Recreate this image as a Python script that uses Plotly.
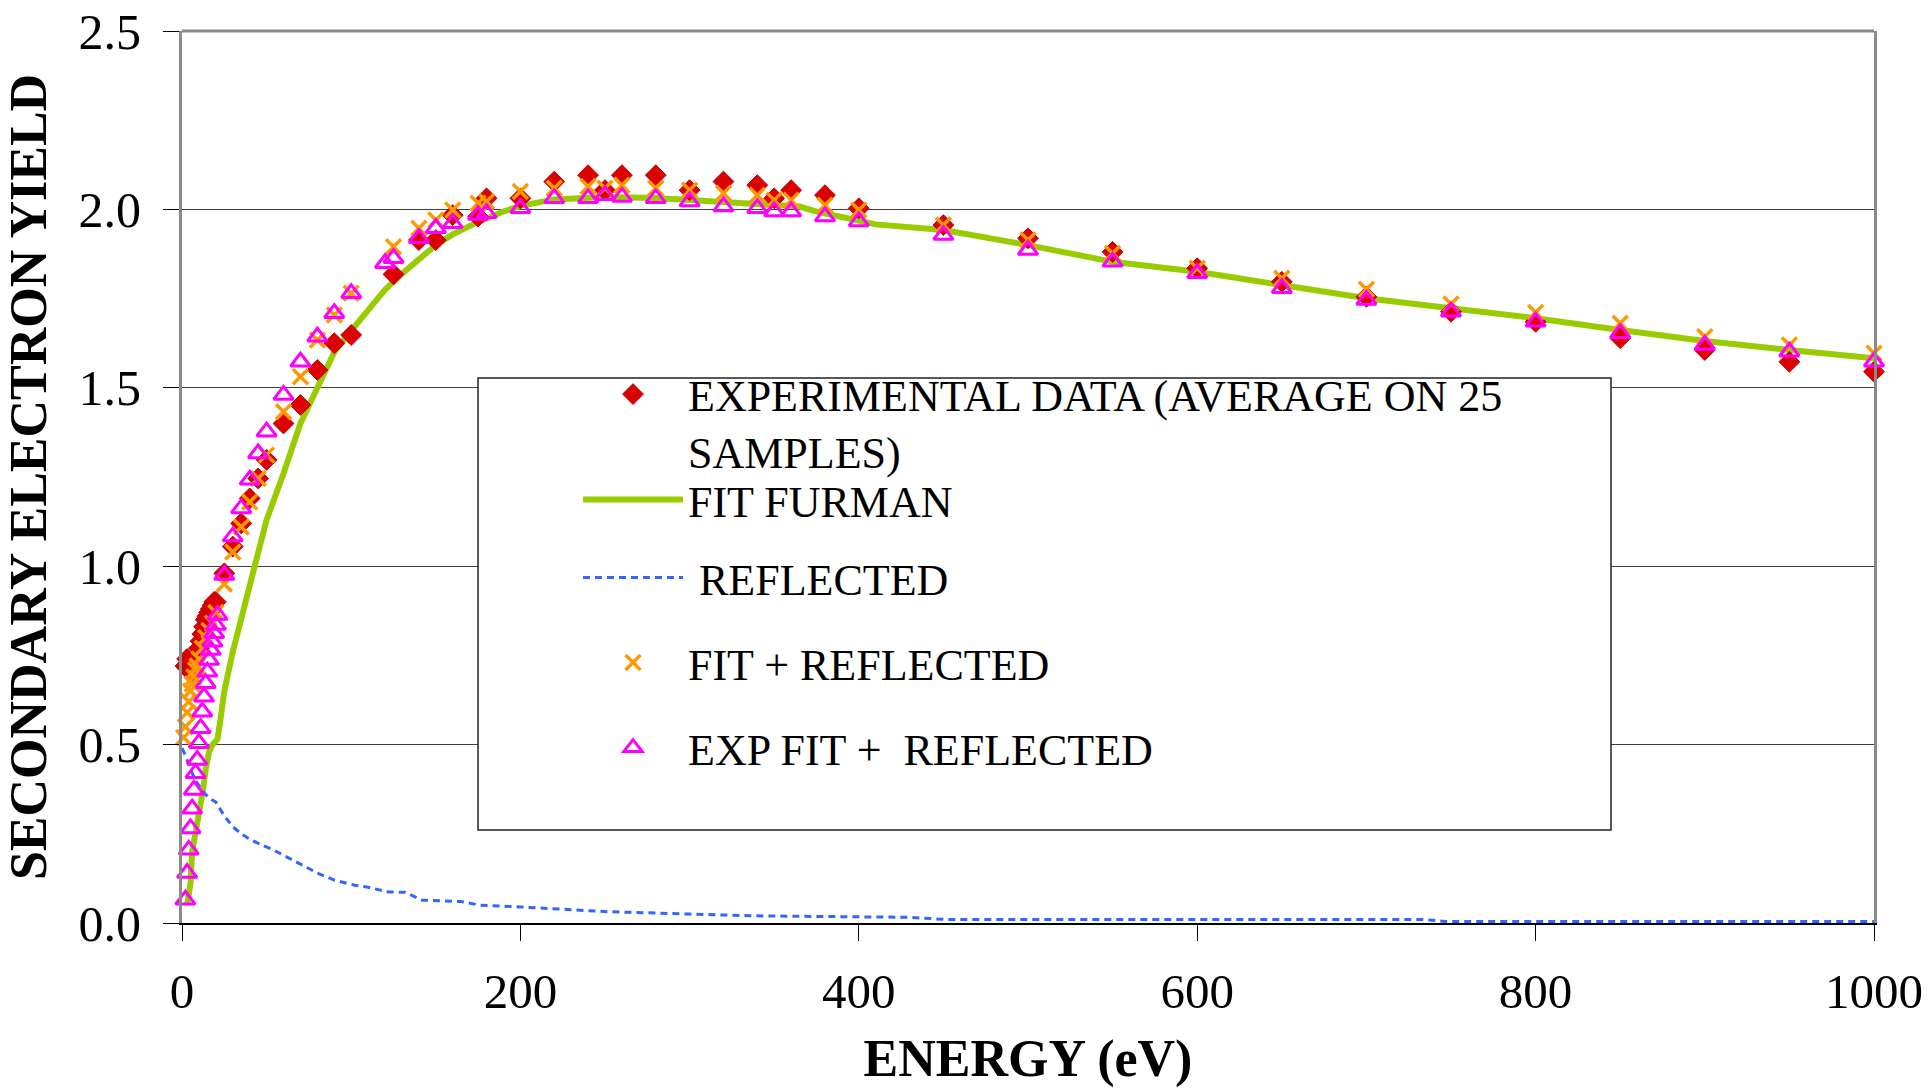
import plotly.graph_objects as go

# Energy grid and measured secondary electron yield (average on 25 samples)
exp_energy = [2, 3, 4, 5, 6, 10, 11, 12, 13, 14, 15, 16, 17, 18, 19, 20, 25, 30, 35, 40, 45, 50,
              60, 70, 80, 90, 100, 125, 140, 150, 160, 175, 180, 200, 220, 240, 250, 260, 280,
              300, 320, 340, 350, 360, 380, 400, 450, 500, 550, 600, 650, 700, 750, 800, 850,
              900, 950, 1000]
exp_yield = [0.72, 0.74, 0.73, 0.71, 0.70, 0.77, 0.79, 0.81, 0.83, 0.85, 0.86, 0.87, 0.88, 0.89,
             0.90, 0.90, 0.98, 1.055, 1.12, 1.19, 1.246, 1.298, 1.40, 1.452, 1.55, 1.625, 1.648,
             1.818, 1.914, 1.914, 1.984, 1.98, 2.031, 2.031, 2.078, 2.096, 2.054, 2.096, 2.096,
             2.054, 2.078, 2.068, 2.031, 2.054, 2.04, 2.003, 1.956, 1.919, 1.881, 1.835, 1.797,
             1.755, 1.713, 1.685, 1.639, 1.606, 1.573, 1.545]

# Furman fit (true secondaries)
fit_energy = [3, 5, 6, 8, 10, 12, 14, 16, 18, 21, 23, 25, 30, 35, 40, 45, 50, 60, 70, 80, 90, 100,
              110, 120, 130, 140, 150, 160, 175, 190, 200, 220, 250, 280, 310, 340, 365, 375,
              395, 410, 450, 500, 550, 600, 650, 700, 750, 800, 850, 900, 950, 1000]
fit_yield = [0.05, 0.11, 0.20, 0.25, 0.31, 0.36, 0.43, 0.48, 0.50, 0.515, 0.58, 0.65, 0.76, 0.85,
             0.94, 1.03, 1.13, 1.26, 1.40, 1.50, 1.60, 1.66, 1.72, 1.775, 1.82, 1.86, 1.90, 1.93,
             1.965, 1.994, 2.01, 2.028, 2.035, 2.032, 2.023, 2.015, 2.008, 1.994, 1.972, 1.958,
             1.942, 1.90, 1.853, 1.825, 1.788, 1.751, 1.723, 1.695, 1.662, 1.631, 1.606, 1.583]

# Reflected electron component
refl_energy = [0, 2, 5, 8, 12, 16, 20, 25, 30, 35, 40, 46, 54, 60, 70, 80, 90, 102, 110, 122,
               132, 142, 165, 176, 200, 216, 250, 300, 340, 384, 430, 451, 600, 733, 747, 1000]
refl_yield = [0.49, 0.47, 0.43, 0.40, 0.371, 0.35, 0.339, 0.30, 0.27, 0.25, 0.235, 0.221, 0.205,
              0.19, 0.167, 0.14, 0.12, 0.106, 0.10, 0.087, 0.086, 0.064, 0.060, 0.050, 0.045,
              0.041, 0.032, 0.025, 0.020, 0.018, 0.016, 0.010, 0.010, 0.010, 0.004, 0.004]

# Fit + reflected
fr_energy = [1, 2, 3, 4, 5, 6, 7, 8, 9, 10, 12, 14, 16, 18, 20, 25, 30, 35, 40, 45, 50, 60, 70,
             80, 90, 100, 125, 140, 150, 160, 175, 180, 200, 220, 240, 250, 260, 280, 300, 320,
             340, 350, 360, 380, 400, 450, 500, 550, 600, 650, 700, 750, 800, 850, 900, 950,
             1000]
fr_yield = [0.52, 0.55, 0.59, 0.62, 0.65, 0.67, 0.69, 0.71, 0.72, 0.74, 0.77, 0.80, 0.82, 0.84,
            0.87, 0.95, 1.04, 1.11, 1.18, 1.246, 1.312, 1.433, 1.531, 1.634, 1.704, 1.765,
            1.895, 1.947, 1.970, 1.998, 2.017, 2.022, 2.05, 2.059, 2.064, 2.059, 2.068, 2.059,
            2.054, 2.045, 2.040, 2.026, 2.026, 2.012, 1.998, 1.956, 1.914, 1.877, 1.835, 1.807,
            1.776, 1.735, 1.711, 1.681, 1.643, 1.620, 1.597]

# Exponential fit + reflected
efr_energy = [2, 3, 4, 5, 6, 7, 8, 9, 10, 11, 12, 13, 14, 15, 16, 17, 18, 19, 20, 21, 25, 30,
              35, 40, 45, 50, 60, 70, 80, 90, 100, 120, 125, 140, 150, 160, 175, 180, 200, 220,
              240, 250, 260, 280, 300, 320, 340, 350, 360, 380, 400, 450, 500, 550, 600, 650,
              700, 750, 800, 850, 900, 950, 1000]
efr_yield = [0.065, 0.14, 0.205, 0.265, 0.32, 0.373, 0.42, 0.457, 0.504, 0.546, 0.592, 0.634,
             0.672, 0.704, 0.737, 0.765, 0.788, 0.812, 0.835, 0.863, 0.975, 1.083, 1.162,
             1.242, 1.316, 1.377, 1.48, 1.573, 1.643, 1.709, 1.765, 1.849, 1.863, 1.919, 1.947,
             1.961, 1.984, 1.989, 2.003, 2.031, 2.031, 2.040, 2.035, 2.031, 2.022, 2.008, 2.003,
             1.994, 1.994, 1.980, 1.966, 1.928, 1.886, 1.853, 1.821, 1.779, 1.746, 1.713, 1.685,
             1.653, 1.620, 1.601, 1.573]

x_ticks = [0, 200, 400, 600, 800, 1000]
y_ticks = [0.0, 0.5, 1.0, 1.5, 2.0, 2.5]

SERIF = "Liberation Serif, Times New Roman, serif"

fig = go.Figure()

fig.add_trace(go.Scatter(
    x=fit_energy, y=fit_yield, mode="lines", name="FIT FURMAN",
    line=dict(color="#99CC00", width=6), legend="legend2",
))
fig.add_trace(go.Scatter(
    x=refl_energy, y=refl_yield, mode="lines", name="&nbsp;REFLECTED",
    line=dict(color="#3366FF", width=3, dash="7px,5px"), legend="legend3",
))
fig.add_trace(go.Scatter(
    x=exp_energy, y=exp_yield, mode="markers",
    name="EXPERIMENTAL DATA (AVERAGE ON 25<br>SAMPLES)",
    marker=dict(symbol="diamond", size=16, color="#DD0000", line=dict(color="#BB0000", width=1)),
    cliponaxis=False, legend="legend",
))
fig.add_trace(go.Scatter(
    x=fr_energy, y=fr_yield, mode="markers", name="FIT + REFLECTED",
    marker=dict(symbol="x-thin-open", size=15, color="#FF9900",
                line=dict(color="#FF9900", width=3.5)),
    cliponaxis=False, legend="legend4",
))
fig.add_trace(go.Scatter(
    x=efr_energy, y=efr_yield, mode="markers", name="EXP FIT +&nbsp; REFLECTED",
    marker=dict(symbol="triangle-up-open", size=17, color="#FF00FF",
                line=dict(color="#FF00FF", width=3)),
    cliponaxis=False, legend="legend5",
))

L, R, T, B = 182, 58, 31, 165
W, H = 1932, 1088
pw, ph = W - L - R, H - T - B


def px_x(p):
    return (p - L) / pw


def px_y(p):
    return (H - B - p) / ph


# legend frame
fig.add_shape(type="rect", xref="paper", yref="paper",
              x0=px_x(478), x1=px_x(1611), y0=px_y(830), y1=px_y(378),
              line=dict(color="#222222", width=1.5), fillcolor="white", layer="above")
# grey top border of the plot area
fig.add_shape(type="line", xref="paper", yref="paper", x0=0, x1=1, y0=1, y1=1,
              line=dict(color="#8a8a8a", width=3), layer="above")


def legend_at(cy, valign="middle"):
    return dict(
        x=px_x(578), y=px_y(cy), xanchor="left", yanchor="middle",
        bgcolor="rgba(0,0,0,0)", borderwidth=0,
        font=dict(family=SERIF, size=44, color="black"),
        valign=valign, itemwidth=100,
    )


fig.update_layout(
    width=W, height=H,
    margin=dict(l=L, r=R, t=T, b=B, autoexpand=False),
    paper_bgcolor="white", plot_bgcolor="white",
    font=dict(family=SERIF, color="black", size=48),
    showlegend=True,
    legend=legend_at(423, "top"),
    legend2=legend_at(500),
    legend3=legend_at(578),
    legend4=legend_at(663),
    legend5=legend_at(748),
    xaxis=dict(
        range=[0, 1000], tickvals=x_ticks, ticktext=[str(v) for v in x_ticks],
        ticks="outside", ticklen=16, tickcolor="black", tickwidth=1,
        showline=True, linecolor="black", linewidth=2, showgrid=False, zeroline=False,
        automargin=False,
        tickfont=dict(family=SERIF, size=49, color="black"), ticklabelstandoff=8,
        title=dict(text="<b>ENERGY (eV)</b>", font=dict(family=SERIF, size=52, color="black"),
                   standoff=27),
    ),
    yaxis=dict(
        range=[0, 2.5], tickvals=y_ticks, ticktext=[f"{v:.1f}" for v in y_ticks],
        ticks="outside", ticklen=16, tickcolor="black", tickwidth=1,
        showline=True, linecolor="#8a8a8a", linewidth=3, mirror=True,
        showgrid=True, gridcolor="#404040", gridwidth=1, zeroline=False,
        automargin=False,
        tickfont=dict(family=SERIF, size=50, color="black"), ticklabelstandoff=12,
        title=dict(text="<b>SECONDARY ELECTRON YIELD</b>",
                   font=dict(family=SERIF, size=52, color="black"), standoff=23),
    ),
)

fig.write_html("out.html")
